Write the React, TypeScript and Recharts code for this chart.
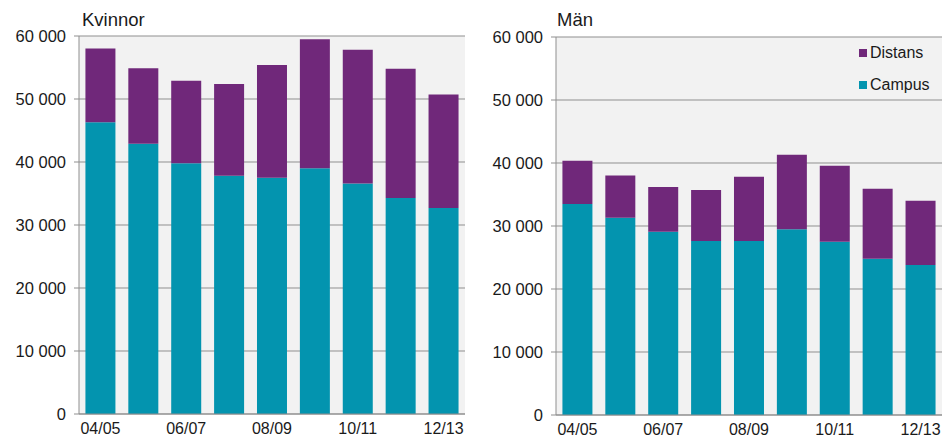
import { BarChart, Bar, XAxis, YAxis, CartesianGrid, Legend } from 'recharts';

const categories = ['04/05', '05/06', '06/07', '07/08', '08/09', '09/10', '10/11', '11/12', '12/13'];

const kvinnorCampus = [46300, 42900, 39800, 37800, 37500, 39000, 36600, 34300, 32700];
const kvinnorDistans = [11700, 12000, 13100, 14600, 17900, 20500, 21200, 20500, 18000];
const manCampus = [33500, 31300, 29100, 27600, 27600, 29500, 27500, 24800, 23800];
const manDistans = [6850, 6700, 7100, 8100, 10200, 11800, 12050, 11100, 10200];

const yTicks = [0, 10000, 20000, 30000, 40000, 50000, 60000];

const CAMPUS = '#0394AF';
const DISTANS = '#70287A';
const GRID = '#8f8f8f';
const FONT = '"Liberation Sans", Arial, sans-serif';

const fmt = (v: number) => String(v).replace(/\B(?=(\d{3})+(?!\d))/g, ' ');

const kvinnorData = categories.map((c, i) => ({ name: c, Campus: kvinnorCampus[i], Distans: kvinnorDistans[i] }));
const manData = categories.map((c, i) => ({ name: c, Campus: manCampus[i], Distans: manDistans[i] }));

const LegendBox = ({ payload }: Record<string, unknown>) => {
  const items = [...((payload as { value: string; color: string }[]) || [])].reverse();
  return (
    <div style={{ fontFamily: FONT, fontSize: 16, color: '#1a1a1a' }}>
      {items.map(p => (
        <div key={p.value} style={{ display: 'flex', alignItems: 'center', height: 32 }}>
          <span style={{ width: 8, height: 8, background: p.color, marginRight: 3, display: 'inline-block' }} />
          {p.value}
        </div>
      ))}
    </div>
  );
};

interface PanelProps {
  data: { name: string; Campus: number; Distans: number }[];
  width: number;
  yWidth: number;
  top: number;
  right: number;
  legend?: boolean;
}

function Panel({ data, width, yWidth, top, right, legend }: PanelProps) {
  const yTick = { fontFamily: FONT, fontSize: 16.5, fill: '#1a1a1a' };
  const xTick = { fontFamily: FONT, fontSize: 16, fill: '#1a1a1a' };
  return (
    <BarChart width={width} height={437} data={data} margin={{ top, right, bottom: 0, left: 0 }} barCategoryGap="15%">
      <CartesianGrid vertical={false} stroke={GRID} fill="#f2f2f2" />
      <XAxis
        dataKey="name"
        interval={1}
        height={437 - 414 - (top - 36)}
        tick={xTick}
        tickLine={false}
        tickSize={0}
        tickMargin={9}
        axisLine={{ stroke: GRID }}
      />
      <YAxis
        domain={[0, 60000]}
        ticks={yTicks}
        width={yWidth}
        tick={yTick}
        tickFormatter={fmt}
        tickSize={5}
        tickMargin={8}
        tickLine={{ stroke: GRID }}
        axisLine={{ stroke: GRID }}
      />
      <YAxis yAxisId="r" orientation="right" width={0} tick={false} tickLine={false} axisLine={{ stroke: GRID }} />
      <Bar dataKey="Campus" stackId="a" fill={CAMPUS} isAnimationActive={false} />
      <Bar dataKey="Distans" stackId="a" fill={DISTANS} isAnimationActive={false} />
      {legend && (
        <Legend
          layout="vertical"
          align="center"
          verticalAlign="middle"
          content={<LegendBox />}
          wrapperStyle={{ left: 389, top: 37, width: 90, height: 64 }}
        />
      )}
    </BarChart>
  );
}

const titleStyle: React.CSSProperties = {
  position: 'absolute',
  top: 9,
  fontFamily: FONT,
  fontSize: 18.5,
  color: '#1a1a1a',
  lineHeight: '22px',
};

export default function App() {
  return (
    <div style={{ position: 'absolute', left: 0, top: 0, width: 942, height: 437, background: '#fff', overflow: 'hidden' }}>
      <div style={{ position: 'absolute', left: 0, top: 0 }}>
        <Panel data={kvinnorData} width={470} yWidth={79} top={36} right={5} />
      </div>
      <div style={{ position: 'absolute', left: 470, top: 0 }}>
        <Panel data={manData} width={472} yWidth={86} top={37} right={0} legend />
      </div>
      <div style={{ ...titleStyle, left: 82 }}>Kvinnor</div>
      <div style={{ ...titleStyle, left: 557 }}>Män</div>
    </div>
  );
}
